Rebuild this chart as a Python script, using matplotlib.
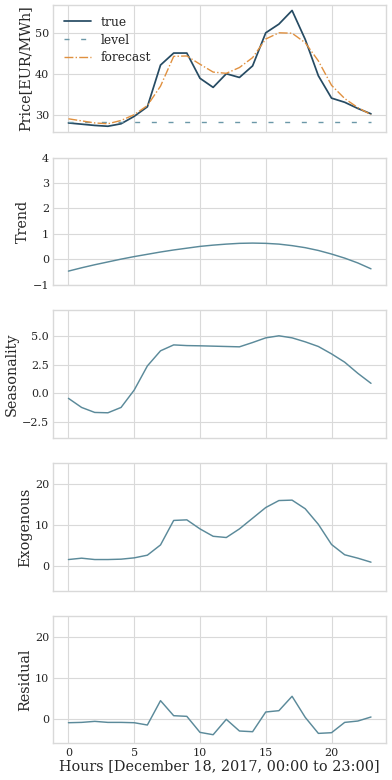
import numpy as np
import matplotlib.pyplot as plt

hours = np.arange(24)

true_price = [28.2, 27.9, 27.6, 27.4, 28.0, 29.8, 32.1, 42.2, 45.1, 45.1, 39.0, 36.8,
              40.1, 39.2, 42.0, 50.0, 52.1, 55.4, 48.4, 39.6, 34.2, 33.2, 31.7, 30.4]
forecast = [29.2, 28.7, 28.2, 28.0, 28.8, 30.2, 32.4, 37.1, 44.3, 44.4, 42.4, 40.5,
            40.2, 41.6, 44.0, 48.5, 50.0, 49.9, 47.6, 43.2, 37.3, 34.1, 31.9, 30.2]
level = [28.5] * 24

trend = [-0.46, -0.33, -0.21, -0.10, 0.01, 0.11, 0.20, 0.29, 0.37, 0.44, 0.51, 0.56,
         0.60, 0.63, 0.64, 0.63, 0.60, 0.54, 0.46, 0.35, 0.21, 0.05, -0.14, -0.37]
seasonality = [-0.44, -1.24, -1.68, -1.71, -1.24, 0.29, 2.41, 3.74, 4.26, 4.20, 4.18, 4.15,
               4.12, 4.09, 4.47, 4.88, 5.06, 4.88, 4.53, 4.12, 3.47, 2.74, 1.76, 0.88]
exogenous = [1.54, 1.87, 1.54, 1.54, 1.63, 1.95, 2.6, 5.1, 11.06, 11.2, 9.0, 7.2,
             6.9, 9.0, 11.6, 14.2, 15.9, 16.0, 13.9, 10.1, 5.2, 2.7, 1.87, 0.9]
residual = [-0.98, -0.9, -0.65, -0.9, -0.9, -0.98, -1.54, 4.39, 0.73, 0.57, -3.33, -3.9,
            -0.16, -3.0, -3.17, 1.63, 1.95, 5.45, 0.33, -3.58, -3.41, -0.9, -0.57, 0.41]

plt.style.use('seaborn-v0_8-whitegrid')
plt.rcParams['font.family'] = ['DejaVu Serif']
plt.rcParams['axes.edgecolor'] = '#d9d9d9'
plt.rcParams['grid.color'] = '#d9d9d9'

c_true = '#264b63'
c_fc = '#e0903f'
c_comp = '#5b8a9a'
lab_fs = 10.4

fig, axs = plt.subplots(5, 1, figsize=(3.92, 7.8), dpi=100, sharex=True)
fig.subplots_adjust(left=0.136, right=0.985, top=0.994, bottom=0.047, hspace=0.2)

ax = axs[0]
ax.plot(hours, true_price, color=c_true, lw=1.25, label='true')
ax.plot(hours, level, color='#6b98a8', lw=1.0, ls=(0, (3.6, 8.4)), label='level')
ax.plot(hours, forecast, color=c_fc, lw=1.0, ls='-.', label='forecast')
ax.set_ylabel('Price[EUR/MWh]', fontsize=lab_fs, labelpad=2)
ax.legend(loc='upper left', frameon=False, fontsize=8.8, handlelength=2.2,
          labelspacing=0.4)

ax = axs[1]
ax.plot(hours, trend, color=c_comp, lw=1.05)
ax.set_ylim(-1, 4)
ax.set_ylabel('Trend', fontsize=lab_fs, labelpad=2)

ax = axs[2]
ax.plot(hours, seasonality, color=c_comp, lw=1.05)
ax.set_ylim(-3.9, 7.3)
ax.set_yticks([-2.5, 0.0, 2.5, 5.0])
ax.set_ylabel('Seasonality', fontsize=lab_fs, labelpad=2)

ax = axs[3]
ax.plot(hours, exogenous, color=c_comp, lw=1.05)
ax.set_ylim(-6, 25)
ax.set_yticks([0, 10, 20])
ax.set_ylabel('Exogenous', fontsize=lab_fs, labelpad=2)

ax = axs[4]
ax.plot(hours, residual, color=c_comp, lw=1.05)
ax.set_ylim(-6, 25)
ax.set_yticks([0, 10, 20])
ax.set_ylabel('Residual', fontsize=lab_fs, labelpad=2)
ax.set_xlabel('Hours [December 18, 2017, 00:00 to 23:00]', fontsize=lab_fs, labelpad=1)
ax.set_xticks([0, 5, 10, 15, 20])

for a in axs:
    a.tick_params(labelsize=8, pad=3)

plt.savefig('out.png')
